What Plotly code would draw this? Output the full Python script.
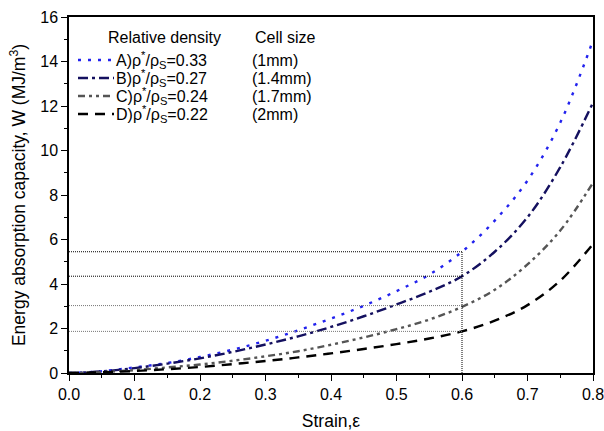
import plotly.graph_objects as go

# strain values (x) and energy absorption W (MJ/m^3)
strain = [0.0, 0.05, 0.1, 0.15, 0.2, 0.25, 0.3, 0.35, 0.4, 0.45, 0.5, 0.55, 0.6,
          0.65, 0.7, 0.75, 0.8]
w_a = [0.0, 0.08, 0.25, 0.45, 0.72, 1.05, 1.45, 1.92, 2.45, 3.02, 3.68, 4.42, 5.45,
       6.85, 8.65, 11.25, 14.95]
w_b = [0.0, 0.07, 0.22, 0.42, 0.66, 0.95, 1.28, 1.65, 2.07, 2.55, 3.08, 3.65, 4.35,
       5.45, 7.0, 9.25, 12.15]
w_c = [0.0, 0.04, 0.13, 0.25, 0.38, 0.55, 0.75, 0.98, 1.27, 1.6, 1.97, 2.4, 2.97,
       3.74, 4.88, 6.4, 8.55]
w_d = [0.0, 0.03, 0.09, 0.17, 0.27, 0.4, 0.54, 0.7, 0.88, 1.08, 1.3, 1.55, 1.87,
       2.35, 3.05, 4.15, 5.8]

labels = ["A)", "B)", "C)", "D)"]
densities = ["0.33", "0.27", "0.24", "0.22"]
cell_sizes = ["(1mm)", "(1.4mm)", "(1.7mm)", "(2mm)"]
colors = ["#2222ee", "#14105f", "#555555", "#000000"]
dashes = ["3px,7px", "10px,4px,3px,4px", "7px,4px,3px,4px,3px,4px", "10px,7px"]
series = [w_a, w_b, w_c, w_d]

# reference marks at strain 0.6
ref_strain = 0.6
ref_w = [5.45, 4.35, 3.03, 1.87]
ref_colors = ["#000000", "#000000", "#777777", "#777777"]

W, H = 604, 431
ml, mr, mt, mb = 69, 11, 17, 58
pw, ph = W - ml - mr, H - mt - mb


def px_x(p):
    # pixel -> paper coordinate
    return (p - ml) / pw


def px_y(p):
    return 1 - (p - mt) / ph


fig = go.Figure()

for w, col, dash in zip(series, colors, dashes):
    fig.add_trace(go.Scatter(x=strain, y=w, mode="lines", line_shape="spline",
                             line=dict(color=col, width=2.4, dash=dash),
                             showlegend=False))

for w, col in zip(ref_w, ref_colors):
    fig.add_trace(go.Scatter(x=[0, ref_strain], y=[w, w], mode="lines",
                             line=dict(color=col, width=1, dash="1px,1px"),
                             showlegend=False))
fig.add_trace(go.Scatter(x=[ref_strain, ref_strain], y=[0, max(ref_w)], mode="lines",
                         line=dict(color="#000000", width=1, dash="1px,1px"),
                         showlegend=False))

# hand-made legend with two columns
fnt = dict(family="Liberation Sans, Arial, sans-serif", size=16, color="black")
fig.add_annotation(x=px_x(106), y=px_y(38), xref="paper", yref="paper",
                   text="Relative density", showarrow=False, xanchor="left",
                   yanchor="middle", font=fnt)
fig.add_annotation(x=px_x(253), y=px_y(38), xref="paper", yref="paper",
                   text="Cell size", showarrow=False, xanchor="left",
                   yanchor="middle", font=fnt)
row_y = [60, 78, 96, 114]
for i in range(4):
    yy = px_y(row_y[i])
    fig.add_shape(type="line", xref="paper", yref="paper",
                  x0=px_x(78), x1=px_x(114), y0=yy, y1=yy,
                  line=dict(color=colors[i], width=2.4, dash=dashes[i]))
    fig.add_annotation(x=px_x(114), y=yy, xref="paper", yref="paper",
                       text=labels[i] + "ρ<sup>*</sup>/ρ<sub>S</sub>=" + densities[i],
                       showarrow=False, xanchor="left", yanchor="middle", font=fnt)
    fig.add_annotation(x=px_x(250), y=yy, xref="paper", yref="paper",
                       text=cell_sizes[i], showarrow=False, xanchor="left",
                       yanchor="middle", font=fnt)

fig.update_layout(
    width=W, height=H,
    margin=dict(l=ml, r=mr, t=mt, b=mb, autoexpand=False),
    plot_bgcolor="white", paper_bgcolor="white",
    font=fnt,
    showlegend=False,
)
fig.update_xaxes(range=[0, 0.8], dtick=0.1, tickformat=".1f", automargin=False,
                 showline=True, linecolor="black", linewidth=1.5, mirror=True,
                 ticks="outside", ticklen=6, tickwidth=1.2, tickcolor="black",
                 minor=dict(dtick=0.05, ticks="outside", ticklen=3, tickcolor="black"),
                 showgrid=False, zeroline=False, ticklabeloverflow="allow",
                 title=dict(text="Strain,ε", font=dict(size=17.5), standoff=14),
                 tickfont=dict(size=16))
fig.update_yaxes(range=[0, 16], dtick=2, automargin=False,
                 showline=True, linecolor="black", linewidth=1.5, mirror=True,
                 ticks="outside", ticklen=6, tickwidth=1.2, tickcolor="black",
                 minor=dict(dtick=1, ticks="outside", ticklen=3, tickcolor="black"),
                 showgrid=False, zeroline=False,
                 title=dict(text="Energy absorption capacity, W (MJ/m<sup>3</sup>)",
                            font=dict(size=17.5), standoff=10),
                 tickfont=dict(size=16))

# drop the default page margin so the figure fills the window exactly
fig.write_html("out.html", config={"displayModeBar": False},
               post_script="document.body.style.margin='0';"
                           "document.body.style.overflow='hidden';")
